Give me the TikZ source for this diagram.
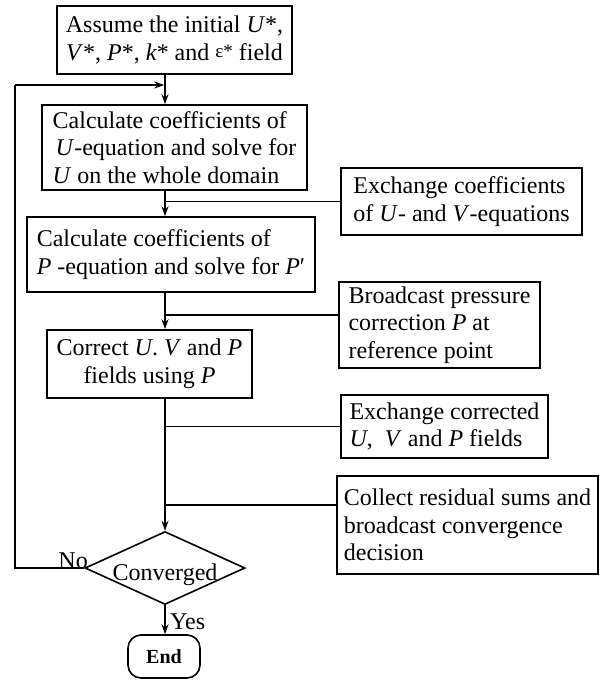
\documentclass[tikz,border=0pt]{standalone}
\usepackage{fontspec}
\setmainfont{Liberation Serif}
\usetikzlibrary{shapes.geometric,arrows.meta}
\begin{document}
\begin{tikzpicture}[x=1pt,y=-1pt,
  box/.style={draw,line width=1.6pt,inner sep=3pt,font=\fontsize{24}{27.5}\selectfont},
  ln/.style={line width=1.6pt},
  arr/.style={line width=1.6pt,-{Stealth[length=10pt,width=7pt]}},
  lbl/.style={font=\fontsize{24}{27.5}\selectfont,inner sep=0pt}
]
\useasboundingbox (0,0) rectangle (602,681);
\coordinate (m) at (165,0);
\node[box,minimum width=235pt,minimum height=68pt,align=center] (b1) at (174.5,40)
  {Assume the initial \textit{U}*,\\ \textit{V}*, \textit{P}*, \textit{k}* and {\fontsize{19}{19}\selectfont\raisebox{3pt}{ε*}} field};
\node[box,minimum width=265pt,minimum height=85pt,align=left] (b2) at (174.5,147.5)
  {Calculate coefficients of\\ \hspace{3pt}\textit{U}-equation and solve for\\ \textit{U} on the whole domain};
\node[box,minimum width=241pt,minimum height=67pt,align=left] (ex1) at (461.5,201.5)
  {Exchange coefficients\\ of \textit{U}- and \textit{V}-equations};
\node[box,minimum width=288pt,minimum height=75pt,align=left] (b3) at (171,254.5)
  {Calculate coefficients of\\ \textit{P} -equation and solve for \textit{P}′};
\node[box,minimum width=201pt,minimum height=86pt,align=left] (bc) at (439.5,325)
  {Broadcast pressure\\ correction \textit{P} at\\ reference point};
\node[box,minimum width=205pt,minimum height=68pt,align=center] (b4) at (149.5,364)
  {Correct \textit{U}. \textit{V} and \textit{P}\\ fields using \textit{P}};
\node[box,minimum width=207pt,minimum height=63pt,align=left] (ex2) at (444.5,426.5)
  {Exchange corrected\\ \textit{U},\ \ \textit{V} and \textit{P} fields};
\node[box,minimum width=261pt,minimum height=98pt,align=left] (col) at (467.5,525)
  {Collect residual sums and\\ broadcast convergence\\ decision};
\node[draw,diamond,line width=1.6pt,minimum width=160pt,minimum height=73pt,inner sep=0pt] (dia) at (165,568) {};
\node[lbl] (conv) at (165,575) {Converged};
\node[draw,line width=1.6pt,rounded corners=13pt,minimum width=72pt,minimum height=43pt,inner sep=0pt,font=\fontsize{20}{24}\selectfont\bfseries] (end) at (164,656.5) {End};
\node[lbl,anchor=south east] (no) at (88,569) {No};
\node[lbl,anchor=west] (yes) at (170,622) {Yes};

\coordinate (lt) at (15,85);
\coordinate (jt) at (165,85);
\coordinate (y2) at (0,315);
\coordinate (y4) at (0,505);

\draw[arr] (b1.south -| m) -- (b2.north -| m);
\draw[arr] (b2.south -| m) -- (b3.north -| m);
\draw[arr] (b3.south -| m) -- (b4.north -| m);
\draw[arr] (b4.south -| m) -- (dia.north);
\draw[arr] (dia.south) -- (end.north -| dia.south);
\draw[ln] (ex1.west) -- (ex1.west -| m);
\draw[ln] (bc.west |- y2) -- (m |- y2);
\draw[ln] (ex2.west) -- (ex2.west -| m);
\draw[ln] (col.west |- y4) -- (m |- y4);
\draw[ln] (dia.west) -- (dia.west -| lt) -- (lt);
\draw[arr] (lt) -- ([xshift=-0.8pt]jt);
\end{tikzpicture}
\end{document}
